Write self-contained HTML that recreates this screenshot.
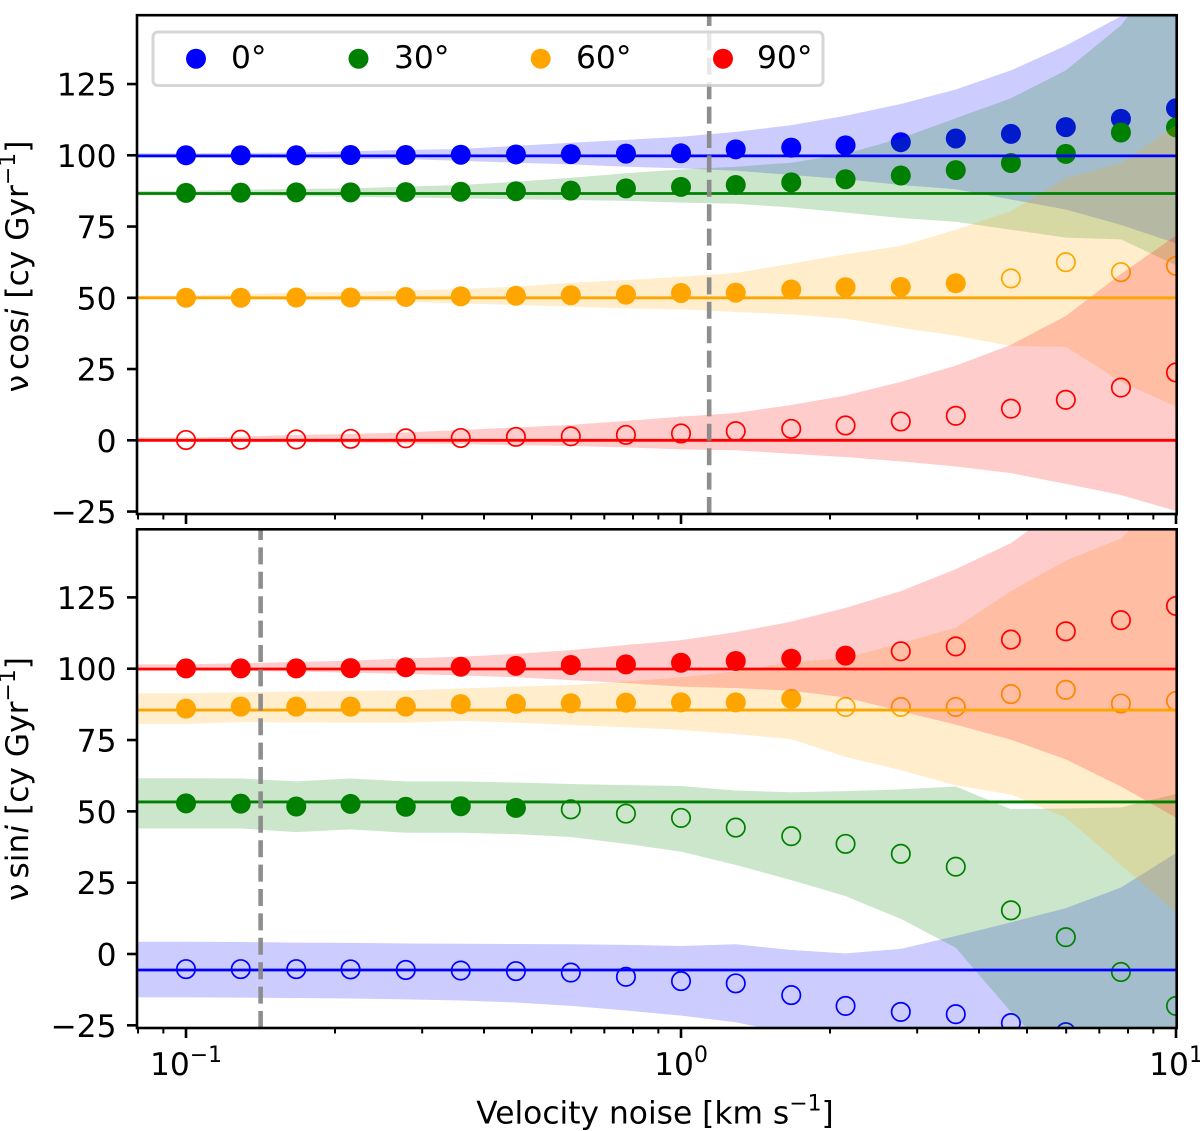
<!DOCTYPE html>
<html lang="en">
<head>
<meta charset="utf-8">
<title>Velocity noise chart</title>
<style>
html,body{margin:0;padding:0;background:#fff;width:1200px;height:1131px;overflow:hidden}
svg{display:block}
text{font-family:"DejaVu Sans","Liberation Sans",sans-serif;fill:#000}
</style>
</head>
<body>
<svg id="chart" xmlns="http://www.w3.org/2000/svg" width="1200" height="1131" viewBox="0 0 1200 1131">
  <defs>
    <clipPath id="clip-top"><rect x="137" y="15" width="1039.7" height="499"/></clipPath>
    <clipPath id="clip-bottom"><rect x="137" y="529.3" width="1039.7" height="498.7"/></clipPath>
  </defs>
  <rect x="0" y="0" width="1200" height="1131" fill="#fff"/>
  <g id="top-plot" clip-path="url(#clip-top)"></g>
  <g id="bottom-plot" clip-path="url(#clip-bottom)"></g>
  <g id="axes-layer"></g>

  <text transform="translate(28,266.5) rotate(-90)" text-anchor="middle" font-size="31.3">ν<tspan dx="5">cos</tspan><tspan font-style="italic">i</tspan> [cy Gyr<tspan font-size="21.9" dy="-13">−1</tspan><tspan dy="13">]</tspan></text>
  <text transform="translate(28,779) rotate(-90)" text-anchor="middle" font-size="31.3">ν<tspan dx="5">sin</tspan><tspan font-style="italic">i</tspan> [cy Gyr<tspan font-size="21.9" dy="-13">−1</tspan><tspan dy="13">]</tspan></text>
  <text x="655" y="1123.5" text-anchor="middle" font-size="31.3">Velocity noise [km s<tspan font-size="21.9" dy="-13">−1</tspan><tspan dy="13">]</tspan></text>

  <g>
    <rect x="153" y="32" width="670" height="53.5" rx="5" ry="5" fill="#fff" fill-opacity="0.8" stroke="#ccc" stroke-opacity="0.8" stroke-width="3"/>
    <g>
      <circle cx="196" cy="58.7" r="10" fill="#0000ff"/>
      <text x="231" y="68" font-size="31.3">0°</text>
    </g>
    <g>
      <circle cx="358.5" cy="58.7" r="10" fill="#008000"/>
      <text x="394" y="68" font-size="31.3">30°</text>
    </g>
    <g>
      <circle cx="540.7" cy="58.7" r="10" fill="#ffa500"/>
      <text x="576" y="68" font-size="31.3">60°</text>
    </g>
    <g>
      <circle cx="723" cy="58.7" r="10" fill="#ff0000"/>
      <text x="757" y="68" font-size="31.3">90°</text>
    </g>
  </g>
</svg>

<script>
// ---------- shared axis data ----------
var noise = [0.1,0.129,0.167,0.215,0.278,0.359,0.464,0.599,0.774,1,1.29,1.67,2.15,2.78,3.59,4.64,5.99,7.74,10];
var xLowerLimit = [0.0796];
var yTicks = [-25,0,25,50,75,100,125];
var yTickLabels = ['−25','0','25','50','75','100','125'];
var xMajorTicks = [0.1,1,10];
var xTickBases = ['10','10','10'];
var xTickExponents = ['−1','0','1'];
var xMinorTicks = [0.08,0.09,0.2,0.3,0.4,0.5,0.6,0.7,0.8,0.9,2,3,4,5,6,7,8,9];
var angles = ['0-deg','30-deg','60-deg','90-deg'];
var colors = ['#0000ff','#008000','#ffa500','#ff0000'];

// ---------- top panel: v cos i ----------
var cosTruth = [99.8,86.6,50,0];
var cosFilledCount = [19,19,15,0];
var cosNoiseLimit = [1.14];
var cos0 = [100,100,100,100.1,100.1,100.2,100.3,100.4,100.6,100.7,102.1,102.7,103.5,104.6,105.9,107.5,109.9,112.8,116.5];
var cos0Upper = [100.7,100.8,101,101.4,101.9,102.2,103.3,104.4,105.4,106.5,108.2,110.6,113.9,118,123.1,129.8,138.5,148.8,165];
var cos0Lower = [99.2,99.1,98.9,98.7,98.6,98.1,97.4,96.8,96,95.4,94.6,93.1,91.6,89.6,88.1,84.5,81,75.6,69.1];
var cos30 = [86.8,86.9,87,87,87.1,87.2,87.4,87.6,88.4,88.9,89.6,90.5,91.6,92.9,94.8,97.3,100.5,108,109.8];
var cos30Upper = [87.5,87.9,88.2,88.4,89,89.6,90.7,92.1,93.7,95,96,97.4,100.5,106,113,120,129.8,145.6,170];
var cos30Lower = [86,85.9,85.7,85.4,85.2,84.9,84.6,84.3,84,83.4,83,81.7,79.9,78,76.7,73.9,71.1,70.5,61.4];
var cos60 = [50,50,50.1,50.1,50.3,50.5,50.7,50.9,51.1,51.7,51.8,52.9,53.7,53.8,55.1,56.8,62.5,59,61.2];
var cos60Upper = [50.8,51.3,51.8,52.1,52.5,53.1,53.9,55.3,56.2,57.4,58.7,62,65.3,68.2,73.9,80.4,92,97.2,110.6];
var cos60Lower = [49.7,49.5,49.2,48.9,48.6,48,47.5,46.9,46.3,46,45,44.2,42.7,39.5,36.7,33.1,32.8,20.5,11.8];
var cos90 = [0.1,0.2,0.3,0.5,0.7,0.8,1.2,1.4,1.9,2.4,3.2,4,5.2,6.6,8.6,11.1,14.2,18.5,23.8];
var cos90Upper = [1,1.3,1.9,2.2,2.8,3.6,4.5,5.4,6.8,8.3,9.6,12.4,15.7,20.5,26.2,33.5,43.6,58.4,71.8];
var cos90Lower = [-0.5,-0.6,-0.7,-0.8,-1.1,-1.3,-1.7,-2,-2.5,-3.2,-3.5,-4.7,-5.9,-7.4,-9.2,-11.5,-15.3,-19.2,-24.8];

// ---------- bottom panel: v sin i ----------
var sinTruth = [-5.6,53.3,85.5,99.9];
var sinFilledCount = [0,7,12,13];
var sinNoiseLimit = [0.1415];
var sin0 = [-5.3,-5.3,-5.3,-5.4,-5.6,-5.8,-6,-6.5,-8,-9.5,-10.3,-14.4,-18.2,-20.3,-21.1,-24.2,-27.4,-33,-40];
var sin0Upper = [4.3,4.2,4,3.9,3.7,3.6,3.5,3.4,3.2,2.8,3.4,1.4,0.2,1.8,6.3,11.1,16.1,23.3,35.4];
var sin0Lower = [-15.2,-15.3,-15.4,-15.6,-15.9,-16.3,-17,-18.2,-19.8,-21.6,-23.9,-28,-32,-36,-42,-50,-60,-70,-80];
var sin30 = [52.8,52.7,51.7,52.6,51.6,51.8,51.2,50.7,49.2,47.7,44.3,41.3,38.6,35.1,30.6,15.3,5.9,-6.3,-18.2];
var sin30Upper = [61.6,61.5,60.5,61.5,60.5,60.5,60.1,59.6,59.2,58.9,57.3,56.7,57.1,57.7,58.7,50.8,51,51.4,56.1];
var sin30Lower = [44,44,42.7,43.7,42.5,42.5,42,41,38.6,35.9,31.2,25.9,20.3,12.3,2.2,-20.3,-40,-50,-60];
var sin60 = [86,86.7,86.7,86.7,86.7,87.6,87.7,87.9,88.1,88.2,88.2,89.4,86.6,86.6,86.6,91.1,92.6,87.8,88.7];
var sin60Upper = [91.4,91.7,92,92.2,92.3,93.1,93.7,94.3,95.5,97,99,102.3,103.8,108.9,114.4,127.2,137.9,145.6,165];
var sin60Lower = [80.6,81.3,81.2,81.1,81.1,81.7,81.1,80.3,79.5,78.5,77.1,75.3,69.1,64.4,59.1,55.9,47.8,31.2,14.6];
var sin90 = [100.1,100.1,100.1,100.2,100.5,100.7,101,101.3,101.5,102.1,102.7,103.5,104.6,106.1,107.8,110.2,113.1,117,122];
var sin90Upper = [101.5,101.9,102.4,102.8,103.6,104.2,105.2,106.5,108.3,110,112.8,116.5,121.3,127.2,134.9,144,158,180,200];
var sin90Lower = [99.3,99.2,99,98.6,98.2,97.6,97,96,95,93.7,93.2,92.3,89.9,85.1,80.4,75.1,68.2,58.7,47.8];

// ---------- axis functions ----------
function xPos(v){ return 681 + 495 * Math.log10(v); }
function yTop(v){ return 440.3 - 2.85 * v; }
function yBottom(v){ return 954 - 2.853 * v; }

var NS = 'http://www.w3.org/2000/svg';
function mk(parent, tag, attrs){
  var el = document.createElementNS(NS, tag);
  for (var k in attrs) el.setAttribute(k, attrs[k]);
  parent.appendChild(el);
  return el;
}

function drawSeries(group, yFn, prefix, idx, values, upper, lower, truth, filledCount){
  var color = colors[idx];
  var seriesGroup = mk(group, 'g', {});
  
  
  values.forEach(function(v, i){
    var filled = i < filledCount;
    var c = mk(seriesGroup, 'circle', {
      cx: xPos(noise[i]), cy: yFn(v), r: filled ? 10 : 9.2,
      fill: filled ? color : 'none', stroke: filled ? 'none' : color, 'stroke-width': filled ? 0 : 1.7
    });
    
    
  });
  // band is held flat from the axis limit up to the first noise sample
  var d = 'M' + xPos(xLowerLimit[0]).toFixed(2) + ' ' + yFn(upper[0]).toFixed(2);
  upper.forEach(function(v, i){ d += 'L' + xPos(noise[i]).toFixed(2) + ' ' + yFn(v).toFixed(2); });
  for (var j = lower.length - 1; j >= 0; j--) d += 'L' + xPos(noise[j]).toFixed(2) + ' ' + yFn(lower[j]).toFixed(2);
  d += 'L' + xPos(xLowerLimit[0]).toFixed(2) + ' ' + yFn(lower[0]).toFixed(2);
  var band = mk(seriesGroup, 'path', { d: d + 'Z', fill: color, 'fill-opacity': 0.2 });
  
  
}

function drawTruthLines(group, yFn, prefix, truth){
  truth.forEach(function(v, i){
    var l = mk(group, 'line', { x1: 137, x2: 1177, y1: yFn(v), y2: yFn(v), stroke: colors[i], 'stroke-width': 2.8 });
    
    
  });
}

function drawDashed(group, value, yStart, yEnd, name){
  var l = mk(group, 'line', {
    x1: xPos(value), x2: xPos(value), y1: yStart, y2: yEnd,
    stroke: '#888', 'stroke-opacity': 0.95, 'stroke-width': 4.6, 'stroke-dasharray': '17 7.4'
  });
  
  
}

function drawAxes(layer, yFn, top, bottom, prefix, showLabels){
  var frame = mk(layer, 'rect', { x: 137, y: top, width: 1039.7, height: bottom - top, fill: 'none', stroke: '#000', 'stroke-width': 2.6 });
  
  
  yTicks.forEach(function(v, i){
    var t = mk(layer, 'line', { x1: 127, x2: 137, y1: yFn(v), y2: yFn(v), stroke: '#000', 'stroke-width': 2.6 });
    
    
    var lab = mk(layer, 'text', { x: 116.5, y: yFn(v) + 11.5, 'text-anchor': 'end', 'font-size': 31.3 });
    lab.textContent = yTickLabels[i];
    
    
  });
  xMinorTicks.forEach(function(v){
    var t = mk(layer, 'line', { x1: xPos(v), x2: xPos(v), y1: bottom, y2: bottom + 5.5, stroke: '#000', 'stroke-width': 2 });
    
    
  });
  xMajorTicks.forEach(function(v, i){
    var t = mk(layer, 'line', { x1: xPos(v), x2: xPos(v), y1: bottom, y2: bottom + 10, stroke: '#000', 'stroke-width': 2.6 });
    
    
    if (showLabels) {
      var lab = mk(layer, 'text', { x: xPos(v), y: 1075, 'text-anchor': 'middle', 'font-size': 31.3 });
      
      
      var base = mk(lab, 'tspan', {});
      base.textContent = xTickBases[i];
      var sup = mk(lab, 'tspan', { 'font-size': 21.9, dy: -13 });
      sup.textContent = xTickExponents[i];
    }
  });
}

var topPlot = document.getElementById('top-plot');
var bottomPlot = document.getElementById('bottom-plot');
var axesLayer = document.getElementById('axes-layer');

drawSeries(topPlot, yTop, 'cos', 0, cos0, cos0Upper, cos0Lower, cosTruth, cosFilledCount[0]);
drawSeries(topPlot, yTop, 'cos', 1, cos30, cos30Upper, cos30Lower, cosTruth, cosFilledCount[1]);
drawSeries(topPlot, yTop, 'cos', 2, cos60, cos60Upper, cos60Lower, cosTruth, cosFilledCount[2]);
drawSeries(topPlot, yTop, 'cos', 3, cos90, cos90Upper, cos90Lower, cosTruth, cosFilledCount[3]);
drawTruthLines(topPlot, yTop, 'cos', cosTruth);
drawDashed(topPlot, cosNoiseLimit[0], 514, 15, 'cos-noise-limit-line');

drawSeries(bottomPlot, yBottom, 'sin', 0, sin0, sin0Upper, sin0Lower, sinTruth, sinFilledCount[0]);
drawSeries(bottomPlot, yBottom, 'sin', 1, sin30, sin30Upper, sin30Lower, sinTruth, sinFilledCount[1]);
drawSeries(bottomPlot, yBottom, 'sin', 2, sin60, sin60Upper, sin60Lower, sinTruth, sinFilledCount[2]);
drawSeries(bottomPlot, yBottom, 'sin', 3, sin90, sin90Upper, sin90Lower, sinTruth, sinFilledCount[3]);
drawTruthLines(bottomPlot, yBottom, 'sin', sinTruth);
drawDashed(bottomPlot, sinNoiseLimit[0], 1028, 529, 'sin-noise-limit-line');

drawAxes(axesLayer, yTop, 15.2, 514, 'top', false);
drawAxes(axesLayer, yBottom, 529.3, 1028, 'bottom', true);
</script>
</body>
</html>
